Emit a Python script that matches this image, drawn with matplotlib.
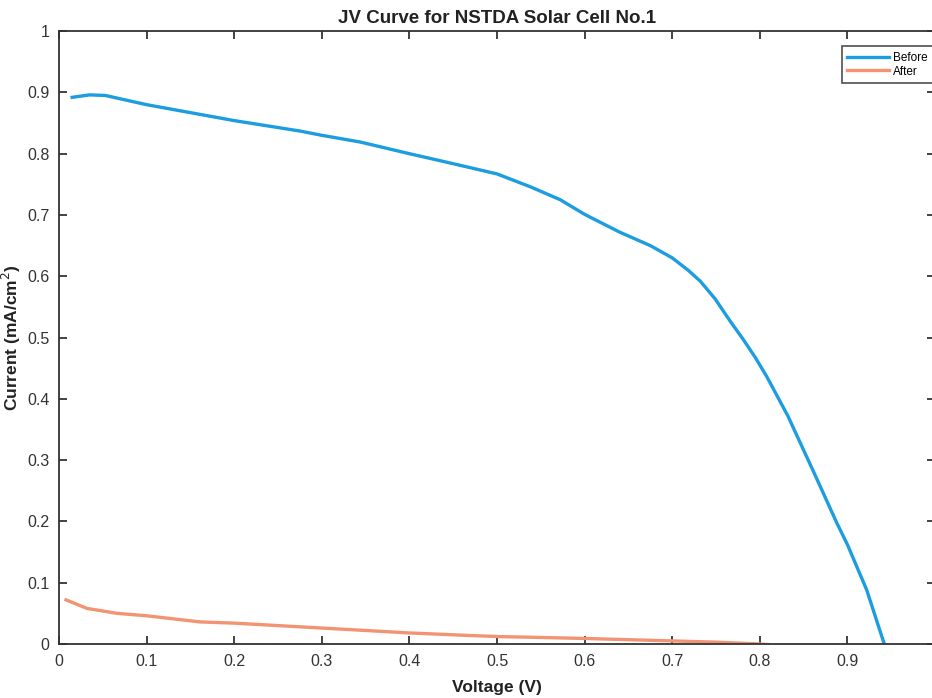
import numpy as np
import matplotlib
matplotlib.use('Agg')
import matplotlib.pyplot as plt

# values
v_before = [0.015, 0.035, 0.053, 0.10, 0.20, 0.275, 0.30, 0.344, 0.40, 0.446,
            0.50, 0.538, 0.572, 0.60, 0.64, 0.675, 0.70, 0.718, 0.732, 0.749,
            0.766, 0.781, 0.795, 0.808, 0.832, 0.861, 0.888, 0.90, 0.922, 0.942]
j_before = [0.892, 0.896, 0.895, 0.880, 0.854, 0.837, 0.830, 0.819, 0.800, 0.785,
            0.767, 0.746, 0.725, 0.701, 0.672, 0.650, 0.630, 0.610, 0.592, 0.563,
            0.527, 0.497, 0.467, 0.436, 0.372, 0.282, 0.197, 0.162, 0.088, 0.0]

v_after = [0.008, 0.032, 0.066, 0.10, 0.161, 0.20, 0.30, 0.40, 0.466, 0.503,
           0.538, 0.60, 0.70, 0.75, 0.80, 0.81]
j_after = [0.072, 0.058, 0.050, 0.046, 0.036, 0.034, 0.026, 0.018, 0.014, 0.012,
           0.011, 0.009, 0.005, 0.003, 0.0, -0.001]

xticks = [0, 0.1, 0.2, 0.3, 0.4, 0.5, 0.6, 0.7, 0.8, 0.9]
xticklabels = ['0', '0.1', '0.2', '0.3', '0.4', '0.5', '0.6', '0.7', '0.8', '0.9']
yticks = [0, 0.1, 0.2, 0.3, 0.4, 0.5, 0.6, 0.7, 0.8, 0.9, 1]
yticklabels = ['0', '0.1', '0.2', '0.3', '0.4', '0.5', '0.6', '0.7', '0.8', '0.9', '1']

plt.rcParams['font.family'] = ['Liberation Sans', 'DejaVu Sans']

fig = plt.figure(figsize=(9.32, 6.98), dpi=100)
ax = fig.add_axes([0.0633, 0.0774, 0.940, 0.878])

ax.plot(v_before, j_before, color='#1b9de0', lw=2.4, label='Before')
ax.plot(v_after, j_after, color='#f29474', lw=2.4, label='After')

ax.set_xlim(0, 1)
ax.set_ylim(0, 1)
ax.set_xticks(xticks)
ax.set_xticklabels(xticklabels)
ax.set_yticks(yticks)
ax.set_yticklabels(yticklabels)
ax.tick_params(direction='in', length=6, width=1.2, top=True, right=True,
               labelsize=11.5, pad=7, color='#222222', labelcolor='#333333')
for s in ax.spines.values():
    s.set_linewidth(1.3)
    s.set_color('#333333')

ax.set_title('JV Curve for NSTDA Solar Cell No.1', fontsize=13.5, fontweight='bold',
             pad=6, color='#222222')
ax.set_xlabel('Voltage (V)', fontsize=12.5, fontweight='bold', labelpad=8, color='#222222')
ax.set_ylabel('Current (mA/cm$^2$)', fontsize=12.5, fontweight='bold', labelpad=3,
              color='#222222')

leg = ax.legend(loc='upper right', bbox_to_anchor=(0.9975, 0.975), fontsize=8.5,
                frameon=True, fancybox=False, edgecolor='#222222', handlelength=3.6,
                handletextpad=0.3, borderpad=0.45, labelspacing=0.15,
                borderaxespad=0.0)
leg.get_frame().set_linewidth(1.2)

fig.savefig('out.png', dpi=100)
